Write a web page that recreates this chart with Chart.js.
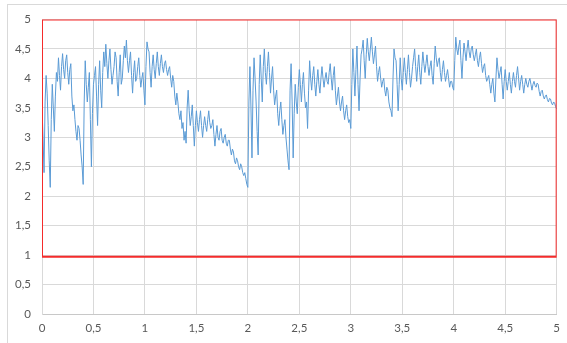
<!DOCTYPE html>
<html><head><meta charset="utf-8">
<script src="https://cdn.jsdelivr.net/npm/chart.js@4"></script>
<style>
html,body{margin:0;padding:0;background:#fff;overflow:hidden}
#frame{position:absolute;left:7px;top:4px;width:620px;height:420px;border:1px solid #d9d9d9;}
#wrap{position:absolute;left:0;top:0;width:567px;height:343px}
</style></head><body>
<div id="frame"></div>
<div id="wrap"><canvas id="c" width="567" height="343"></canvas></div>
<script>
// x of sample i = X_START + i * X_STEP
const X_START = 0;
const X_STEP = 0.01;
const seriesValues = [
 3.5,3.0, 2.4,3.6, 4.05,3.75, 3.2,2.6, 2.15,3.3, 3.9,3.5, 3.1,3.7, 4.1,3.95, 4.35,4.05, 3.8,4.2,
 4.42,4.15, 4.0,4.3, 4.4,4.1, 3.9,4.15, 4.25,3.7, 3.45,3.55, 3.3,3.1, 2.95,3.2, 3.15,2.95, 2.7,2.5,
 2.2,3.6, 4.3,3.9, 3.6,3.85, 4.1,3.3, 2.5,3.4, 3.9,4.05, 4.2,3.7, 3.2,3.9, 4.3,3.8, 3.5,4.1,
 4.45,4.2, 4.58,4.25, 4.0,4.3, 4.5,4.15, 3.9,4.05, 4.2,4.45, 4.35,3.95, 3.7,4.1, 4.4,3.9, 4.0,4.3,
 4.55,4.35, 4.65,4.3, 4.1,4.3, 4.45,4.05, 3.75,4.1, 4.3,3.95, 4.0,4.2, 4.35,4.05, 3.85,4.0, 4.1,3.8,
 3.55,4.2, 4.62,4.5, 4.45,4.1, 3.85,4.2, 4.4,4.15, 4.0,4.25, 4.45,4.2, 4.05,4.25, 4.4,4.2, 4.1,4.25,
 4.3,4.15, 4.05,4.15, 4.2,4.0, 3.85,4.05, 3.95,3.7, 3.55,3.75, 3.6,3.4, 3.3,3.45, 3.15,3.25, 2.95,3.1,
 2.9,3.5, 3.8,3.45, 3.2,3.35, 3.55,3.2, 2.85,3.2, 3.45,3.25, 3.1,3.3, 3.45,3.2, 3.0,3.2, 3.35,3.2,
 3.1,3.3, 3.45,3.25, 3.15,3.2, 3.3,3.05, 2.85,3.05, 3.2,3.0, 2.95,3.1, 3.15,2.95, 2.9,3.0, 3.05,2.9,
 2.85,2.95, 2.95,2.8, 2.7,2.8, 2.75,2.6, 2.55,2.65, 2.6,2.5, 2.45,2.55, 2.5,2.4, 2.35,2.4, 2.3,2.2,
 2.15,3.6, 4.2,3.5, 2.65,3.8, 4.35,4.0, 3.6,3.1, 2.7,3.9, 4.4,4.0, 3.6,4.2, 4.5,4.1, 3.9,4.2,
 4.45,4.1, 3.75,4.0, 4.2,3.8, 3.55,3.7, 3.8,3.4, 3.2,3.45, 3.6,3.3, 3.05,3.2, 3.3,3.0, 2.8,2.6,
 2.45,3.8, 4.25,3.6, 2.65,3.4, 3.9,3.6, 3.4,3.85, 4.15,3.9, 3.6,3.9, 4.1,3.75, 3.5,3.6, 3.15,3.8,
 4.3,4.0, 3.8,4.05, 4.2,3.9, 3.7,3.95, 4.15,3.9, 3.75,4.0, 4.2,4.0, 3.85,4.0, 4.1,3.95, 3.9,4.1,
 4.25,4.0, 3.8,4.05, 4.2,3.8, 3.55,3.7, 3.85,3.6, 3.45,3.6, 3.7,3.45, 3.3,3.45, 3.55,3.35, 3.25,3.3,
 3.15,3.9, 4.5,4.1, 3.7,4.15, 4.55,3.9, 3.45,4.0, 4.4,4.5, 4.65,4.3, 4.0,4.4, 4.68,4.45, 4.3,4.5,
 4.7,4.45, 4.25,4.4, 4.55,4.2, 3.95,4.1, 4.2,4.0, 3.85,3.95, 4.0,3.8, 3.7,3.85, 3.8,3.6, 3.5,3.45,
 3.35,4.0, 4.5,4.35, 4.3,3.9, 3.45,3.9, 4.35,4.0, 3.8,4.1, 4.35,4.1, 3.9,4.15, 4.4,4.1, 3.85,4.0,
 4.2,4.35, 4.5,4.2, 3.95,4.2, 4.4,4.1, 3.9,4.2, 4.45,4.25, 4.1,4.25, 4.4,4.2, 4.05,4.2, 4.3,4.05,
 3.9,4.25, 4.55,4.35, 4.2,4.3, 4.35,4.1, 3.95,4.15, 4.3,4.1, 3.95,4.05, 4.15,4.0, 3.85,3.95, 3.95,3.85,
 3.8,4.3, 4.7,4.5, 4.4,4.55, 4.65,4.3, 4.0,4.35, 4.6,4.45, 4.3,4.5, 4.65,4.45, 4.35,4.5, 4.55,4.4,
 4.3,4.4, 4.5,4.3, 4.2,4.35, 4.45,4.25, 4.1,4.2, 4.25,4.05, 3.95,4.0, 4.05,3.9, 3.75,3.9, 4.0,3.75,
 3.6,4.0, 4.35,4.15, 4.0,4.1, 4.2,3.9, 3.65,3.95, 4.15,3.95, 3.8,3.95, 4.1,3.9, 3.75,3.95, 4.1,3.95,
 3.85,4.05, 4.2,4.0, 3.8,3.95, 4.05,3.9, 3.75,3.9, 4.0,3.9, 3.85,3.95, 4.0,3.9, 3.8,3.9, 3.95,3.88,
 3.85,3.92, 3.9,3.78, 3.7,3.78, 3.8,3.7, 3.65,3.7, 3.72,3.64, 3.6,3.66, 3.65,3.58, 3.55,3.6, 3.58,3.52,
 3.48
];
const boxX = [0, 0, 5, 5, 0];
const boxY = [0.97, 5, 5, 0.97, 0.97];
const xTickValues = [0,0.5,1,1.5,2,2.5,3,3.5,4,4.5,5];
const yTickValues = [0,0.5,1,1.5,2,2.5,3,3.5,4,4.5,5];

const lineData = seriesValues.map((v, i) => ({x: +(X_START + i * X_STEP).toFixed(4), y: v}));
const boxData = boxX.map((x, i) => ({x: x, y: boxY[i]}));
const fmt = v => String(v).replace('.', ',');
const font = {family: 'Lato, "Open Sans", sans-serif', size: 11.5};

new Chart(document.getElementById('c'), {
  type: 'line',
  data: {
    datasets: [
      {data: boxData, borderColor: '#f52b2b', borderWidth: 2, pointRadius: 0, fill: false, tension: 0},
      {data: lineData, borderColor: '#5b9bd5', borderWidth: 1, pointRadius: 0, fill: false, tension: 0}
    ]
  },
  options: {
    responsive: false,
    animation: false,
    devicePixelRatio: 1,
    layout: {padding: {left: 0, top: 19.5, right: 10, bottom: 0}},
    plugins: {legend: {display: false}, tooltip: {enabled: false}},
    scales: {
      x: {
        type: 'linear', min: 0, max: 5,
        afterBuildTicks: s => { s.ticks = xTickValues.map(v => ({value: v})); },
        afterFit: s => { s.height = 29; },
        grid: {color: '#d9d9d9', drawTicks: false, lineWidth: 1},
        border: {color: '#c8c8c8'},
        ticks: {padding: 7, color: '#595959', font: font, callback: v => fmt(v), maxRotation: 0}
      },
      y: {
        type: 'linear', min: 0, max: 5,
        afterBuildTicks: s => { s.ticks = yTickValues.map(v => ({value: v})); },
        afterFit: s => { s.width = 42; },
        grid: {color: '#d9d9d9', drawTicks: false, lineWidth: 1},
        border: {color: '#d9d9d9'},
        ticks: {padding: 11, color: '#595959', font: font, callback: v => fmt(v)}
      }
    }
  }
});
</script>
</body></html>
